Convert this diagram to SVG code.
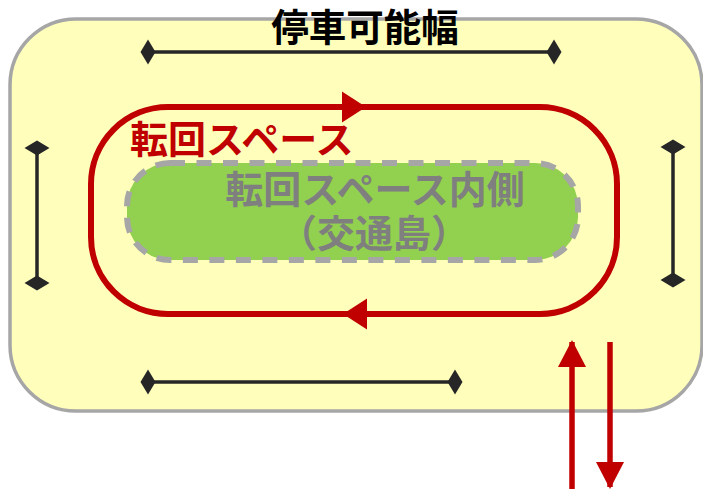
<svg xmlns="http://www.w3.org/2000/svg" width="703" height="489" viewBox="0 0 703 489">
<style>
.t{font-family:"Noto Sans CJK JP","Noto Sans",sans-serif;font-weight:700;font-size:38px}
.dim{stroke:#262626;stroke-width:3.5;fill:none;marker-start:url(#dia);marker-end:url(#dia)}
.red{stroke:#c00000;stroke-width:6;fill:none}
</style>
<defs>
<marker id="dia" viewBox="-8 -13 16 26" markerWidth="16" markerHeight="26" markerUnits="userSpaceOnUse" orient="auto" refX="0" refY="0">
<path d="M-7.5 0 L0 -12.5 L7.5 0 L0 12.5 Z" fill="#262626"/>
</marker>
<marker id="ah" viewBox="0 -16 24 32" markerWidth="24" markerHeight="32" markerUnits="userSpaceOnUse" orient="auto" refX="24" refY="0">
<path d="M0 -15.5 L24 0 L0 15.5 Z" fill="#c00000"/>
</marker>
<marker id="ah2" viewBox="0 -14 27 28" markerWidth="27" markerHeight="28" markerUnits="userSpaceOnUse" orient="auto" refX="25" refY="0">
<path d="M0 -14 L27 0 L0 14 Z" fill="#c00000"/>
</marker>
</defs>
<g id="area">
<rect x="10" y="19" width="692" height="392" rx="66" fill="#ffffbb" stroke="#a6a6a6" stroke-width="3.5"/>
</g>
<g id="island">
<rect x="127" y="163" width="451" height="97" rx="43" fill="#92d050" stroke="#a6a6a6" stroke-width="6" stroke-dasharray="15 11.5"/>
<text class="t" x="375" y="203" text-anchor="middle" fill="#7f7f7f">転回スペース内側</text>
<text class="t" x="374" y="247" text-anchor="middle" fill="#7f7f7f">（交通島）</text>
</g>
<g id="loop">
<rect x="91" y="107" width="526" height="207" rx="77" class="red"/>
<text class="t" x="130" y="153" fill="#c00000">転回スペース</text>
</g>
<g id="title">
<text class="t" x="365" y="41" text-anchor="middle" fill="#000" style="font-size:37.5px">停車可能幅</text>
</g>
<g id="connectors">
<line x1="148" y1="52" x2="554" y2="52" class="dim"/>
<line x1="148" y1="382" x2="455" y2="382" class="dim"/>
<line x1="37" y1="148" x2="37" y2="283" class="dim"/>
<line x1="673" y1="147" x2="673" y2="280" class="dim"/>
<line x1="330" y1="107" x2="366" y2="107" stroke="#c00000" stroke-width="6" marker-end="url(#ah)"/>
<line x1="380" y1="314" x2="343" y2="314" stroke="#c00000" stroke-width="6" marker-end="url(#ah)"/>
<line x1="572" y1="489" x2="572" y2="342" stroke="#c00000" stroke-width="5.5" marker-end="url(#ah2)"/>
<line x1="610" y1="342" x2="610" y2="487" stroke="#c00000" stroke-width="5.5" marker-end="url(#ah2)"/>
</g>
</svg>
